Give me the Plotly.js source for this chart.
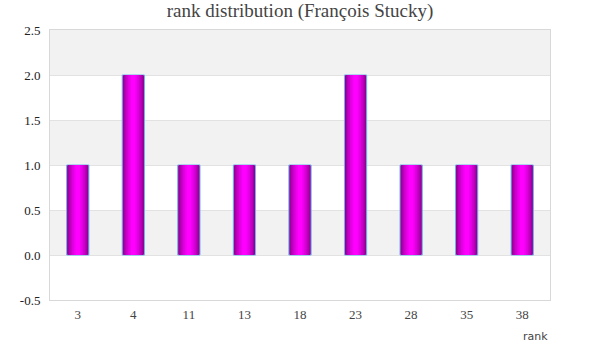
<!DOCTYPE html>
<html>
<head>
<meta charset="utf-8">
<script src="https://cdn.plot.ly/plotly-3.0.1.min.js"></script>
<style>html,body{margin:0;padding:0;background:#fff;}#chart{width:600px;height:360px;}</style>
</head>
<body>
<div id="chart"></div>
<script>
const categories = ["3", "4", "11", "13", "18", "23", "28", "35", "38"];
const counts = [1, 2, 1, 1, 1, 2, 1, 1, 1];
const yTicks = [-0.5, 0, 0.5, 1, 1.5, 2, 2.5];
const yTickText = ["-0.5", "0.0", "0.5", "1.0", "1.5", "2.0", "2.5"];
const bandStarts = [0, 1, 2];

// gradient layers (width fraction, colour) from outer to inner
const layerWidths = [0.4, 0.36, 0.31, 0.26, 0.2, 0.14, 0.08];
const layerColors = ["#880088", "#a000a0", "#b800b8", "#cc00cc", "#e000e0", "#f000f0", "#ff00ff"];

const traces = layerWidths.map((w, i) => ({
  type: 'bar',
  x: categories,
  y: counts,
  width: categories.map(() => w),
  marker: {
    color: layerColors[i],
    line: i === 0 ? {color: '#6fb3ee', width: 1} : {width: 0}
  },
  hoverinfo: 'skip',
  showlegend: false
}));

const shapes = bandStarts.map(b => ({
  type: 'rect', xref: 'paper', yref: 'y', x0: 0, x1: 1, y0: b, y1: b + 0.5,
  fillcolor: '#f2f2f2', line: {width: 0}, layer: 'below'
}));

const layout = {
  width: 600, height: 360,
  margin: {l: 50, r: 50, t: 30, b: 60},
  paper_bgcolor: '#ffffff',
  plot_bgcolor: '#ffffff',
  barmode: 'overlay',
  title: {text: 'rank distribution (François Stucky)', x: 0.5, xanchor: 'center', y: 0.99, yanchor: 'top',
          font: {family: 'Liberation Serif, serif', size: 19, color: '#444'}},
  xaxis: {
    type: 'category',
    showgrid: false,
    showline: true, mirror: true, linecolor: '#d8d8d8', linewidth: 1,
    ticks: '', tickfont: {family: 'Liberation Serif, serif', size: 13, color: '#444'},
    ticklabelstandoff: 2,
    zeroline: false
  },
  yaxis: {
    range: [-0.5, 2.5],
    tickvals: yTicks,
    ticktext: yTickText,
    showgrid: true, gridcolor: '#e2e2e2', gridwidth: 1,
    showline: true, mirror: true, linecolor: '#d8d8d8', linewidth: 1,
    zeroline: false,
    ticks: '', ticklen: 0,
    ticklabelstandoff: 6,
    tickfont: {family: 'Liberation Serif, serif', size: 13, color: '#222'}
  },
  shapes: shapes,
  annotations: [{
    text: 'rank', xref: 'paper', yref: 'paper', x: 1, y: 0, xanchor: 'right', yanchor: 'top',
    yshift: -28, showarrow: false,
    font: {family: 'DejaVu Sans, sans-serif', size: 11, color: '#444'}
  }]
};

Plotly.newPlot('chart', traces, layout, {displayModeBar: false, staticPlot: true});
</script>
</body>
</html>
